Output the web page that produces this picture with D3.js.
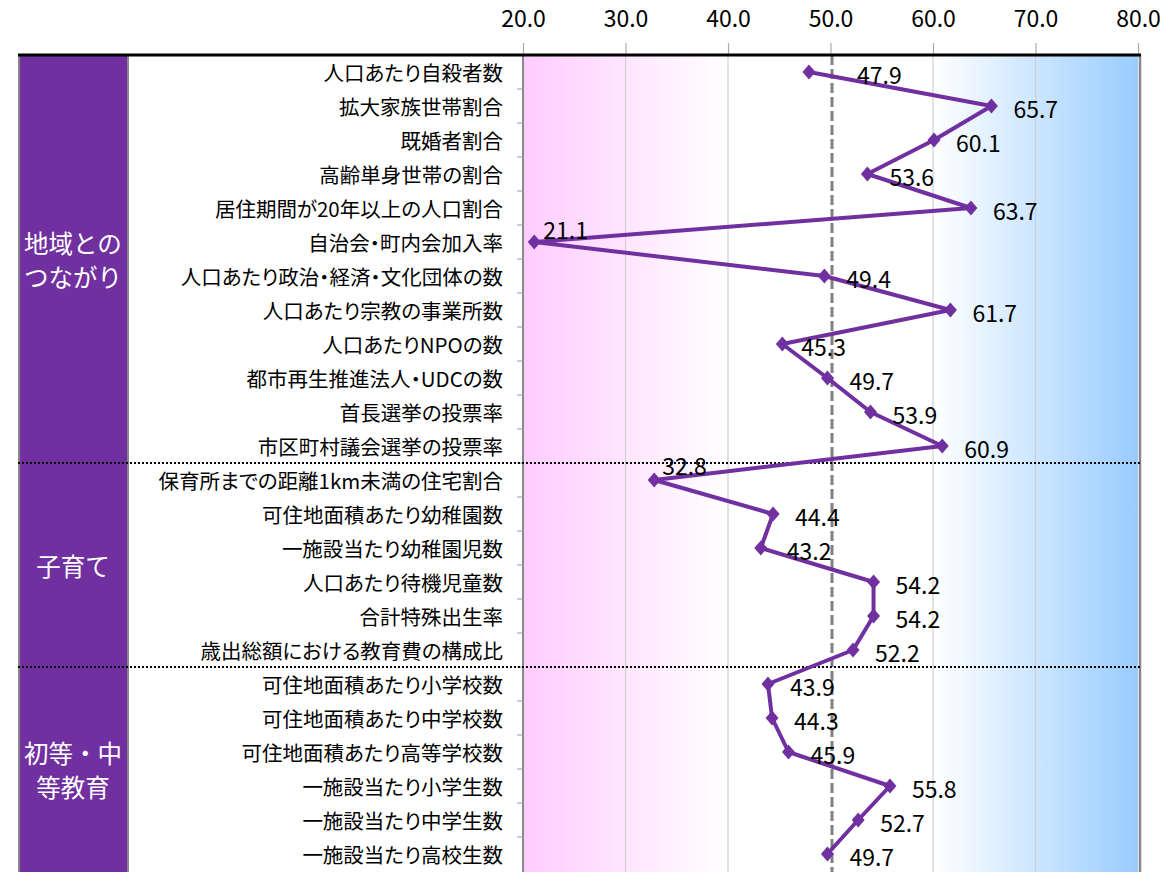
<!DOCTYPE html>
<html>
<head>
<meta charset="utf-8">
<script src="https://cdn.jsdelivr.net/npm/d3@7"></script>
<style>
  body { margin: 0; background: #fff; }
  text { font-family: "Noto Sans CJK JP", "Noto Sans", sans-serif; }
  .cat { font-feature-settings: "palt"; }
</style>
</head>
<body>
<script>
// indicators, top to bottom
var categories = [
    "人口あたり自殺者数", "拡大家族世帯割合", "既婚者割合", "高齢単身世帯の割合",
    "居住期間が20年以上の人口割合", "自治会・町内会加入率", "人口あたり政治・経済・文化団体の数",
    "人口あたり宗教の事業所数 ", "人口あたりNPOの数", "都市再生推進法人・UDCの数",
    "首長選挙の投票率", "市区町村議会選挙の投票率",
    "保育所までの距離1km未満の住宅割合", "可住地面積あたり幼稚園数", "一施設当たり幼稚園児数",
    "人口あたり待機児童数", "合計特殊出生率", "歳出総額における教育費の構成比",
    "可住地面積あたり小学校数", "可住地面積あたり中学校数", "可住地面積あたり高等学校数",
    "一施設当たり小学生数", "一施設当たり中学生数", "一施設当たり高校生数"
];
var values = [
    47.9, 65.7, 60.1, 53.6, 63.7, 21.1, 49.4, 61.7, 45.3, 49.7, 53.9, 60.9,
    32.8, 44.4, 43.2, 54.2, 54.2, 52.2,
    43.9, 44.3, 45.9, 55.8, 52.7, 49.7
];
// groups: label lines, first row, row count
var groupNames = [["地域との", "つながり"], ["子育て"], ["初等・中", "等教育"]];
var groupStart = [0, 12, 18];
var groupSize = [12, 6, 6];
var tickValues = [20, 30, 40, 50, 60, 70, 80];

var width = 1176, height = 872;
var plotTop = 55, rowH = 34;
var purple = "#7030a0";
var numFont = "Lato, 'Open Sans', sans-serif";

var svg = d3.select("body").append("svg")
    .attr("width", width)
    .attr("height", height);

var x = d3.scaleLinear().domain([20, 80]).range([523, 1138]);
var y = d3.scaleBand()
    .domain(d3.range(categories.length))
    .range([plotTop, plotTop + rowH * categories.length]);

// background gradient pink -> white -> blue
var grad = svg.append("defs").append("linearGradient")
    .attr("id", "bg").attr("x1", "0%").attr("x2", "100%");
grad.append("stop").attr("offset", "0%").attr("stop-color", "#ffccff");
grad.append("stop").attr("offset", "33.3%").attr("stop-color", "#ffffff");
grad.append("stop").attr("offset", "66.7%").attr("stop-color", "#ffffff");
grad.append("stop").attr("offset", "100%").attr("stop-color", "#99ccff");

svg.append("rect")
    .attr("x", x(20)).attr("y", plotTop)
    .attr("width", x(80) - x(20)).attr("height", height - plotTop)
    .attr("fill", "url(#bg)");

// vertical gridlines
svg.selectAll(".grid")
    .data(tickValues.filter(function(d) { return d > 20 && d < 80 && d != 50; }))
    .enter().append("line")
    .attr("x1", function(d) { return x(d); })
    .attr("x2", function(d) { return x(d); })
    .attr("y1", plotTop).attr("y2", height)
    .attr("stroke", "#cfcfcf").attr("stroke-width", 1.2);

// 50 reference line
svg.append("line")
    .attr("x1", x(50) + 1.5).attr("x2", x(50) + 1.5)
    .attr("y1", plotTop).attr("y2", height)
    .attr("stroke", "#808080").attr("stroke-width", 3)
    .attr("stroke-dasharray", "10,4");

// purple group column
svg.append("rect")
    .attr("x", 19).attr("y", plotTop)
    .attr("width", 109).attr("height", height - plotTop + 5)
    .attr("fill", purple).attr("stroke", "#888").attr("stroke-width", 2);

// top axis
var xAxis = svg.append("g")
    .attr("transform", "translate(0," + plotTop + ")")
    .call(d3.axisTop(x).tickValues(tickValues).tickSize(12).tickPadding(16)
        .tickFormat(d3.format(".1f")));
xAxis.select(".domain").remove();
xAxis.selectAll("line").attr("stroke", "#aaa").attr("stroke-width", 1.2);
xAxis.selectAll("text")
    .attr("font-family", numFont)
    .attr("font-size", 23).attr("fill", "#000");

// left axis line with row ticks
svg.append("line")
    .attr("x1", x(20)).attr("x2", x(20))
    .attr("y1", plotTop).attr("y2", height)
    .attr("stroke", "#888").attr("stroke-width", 2);
svg.selectAll(".ytick")
    .data(d3.range(1, categories.length))
    .enter().append("line")
    .attr("x1", x(20) - 6).attr("x2", x(20))
    .attr("y1", function(i) { return plotTop + i * rowH; })
    .attr("y2", function(i) { return plotTop + i * rowH; })
    .attr("stroke", "#aaa").attr("stroke-width", 1.2);

// right border
svg.append("line")
    .attr("x1", x(80) + 2).attr("x2", x(80) + 2)
    .attr("y1", plotTop).attr("y2", height)
    .attr("stroke", "#888").attr("stroke-width", 2.5);

// top black line
svg.append("line")
    .attr("x1", 18).attr("x2", x(80) + 3)
    .attr("y1", plotTop).attr("y2", plotTop)
    .attr("stroke", "#000").attr("stroke-width", 3);

// dotted separators between groups
svg.selectAll(".sep")
    .data(groupStart.slice(1))
    .enter().append("line")
    .attr("x1", 18).attr("x2", x(80) + 3)
    .attr("y1", function(d) { return y(d); })
    .attr("y2", function(d) { return y(d); })
    .attr("stroke", "#000").attr("stroke-width", 2)
    .attr("stroke-dasharray", "2,2");

// category labels
svg.selectAll(".cat")
    .data(categories)
    .enter().append("text")
    .attr("class", "cat")
    .attr("x", 503)
    .attr("y", function(d, i) { return y(i) + rowH / 2; })
    .attr("text-anchor", "end")
    .attr("dominant-baseline", "central")
    .attr("font-size", 20.5)
    .attr("fill", "#000")
    .text(function(d) { return d; });

// group labels
groupNames.forEach(function(lines, g) {
    var cy = y(groupStart[g]) + groupSize[g] * rowH / 2;
    var lh = 34;
    lines.forEach(function(s, k) {
        svg.append("text")
            .attr("x", 73)
            .attr("y", cy + (k - (lines.length - 1) / 2) * lh)
            .attr("text-anchor", "middle")
            .attr("dominant-baseline", "central")
            .attr("font-size", 24.5)
            .attr("fill", "#fff")
            .text(s);
    });
});

// data line
var line = d3.line()
    .x(function(d) { return x(d); })
    .y(function(d, i) { return y(i) + rowH / 2; });

svg.append("path")
    .datum(values)
    .attr("d", line)
    .attr("fill", "none")
    .attr("stroke", purple)
    .attr("stroke-width", 4)
    .attr("stroke-linejoin", "round");

// diamond markers
svg.selectAll(".mk")
    .data(values)
    .enter().append("path")
    .attr("transform", function(d, i) {
        return "translate(" + x(d) + "," + (y(i) + rowH / 2) + ")";
    })
    .attr("d", "M0,-7.5L6.5,0L0,7.5L-6.5,0Z")
    .attr("fill", purple);

// data labels (a few were moved by hand in the original)
var labelShift = { 0: [48, 2], 5: [9, -13], 12: [8, -15], 14: [26, 2], 8: [19, 2] };
svg.selectAll(".lbl")
    .data(values)
    .enter().append("text")
    .attr("x", function(d, i) { return x(d) + (labelShift[i] ? labelShift[i][0] : 22); })
    .attr("y", function(d, i) { return y(i) + rowH / 2 + (labelShift[i] ? labelShift[i][1] : 2); })
    .attr("dominant-baseline", "central")
    .attr("font-family", numFont)
    .attr("font-size", 23)
    .attr("fill", "#000")
    .text(function(d) { return d.toFixed(1); });
</script>
</body>
</html>
